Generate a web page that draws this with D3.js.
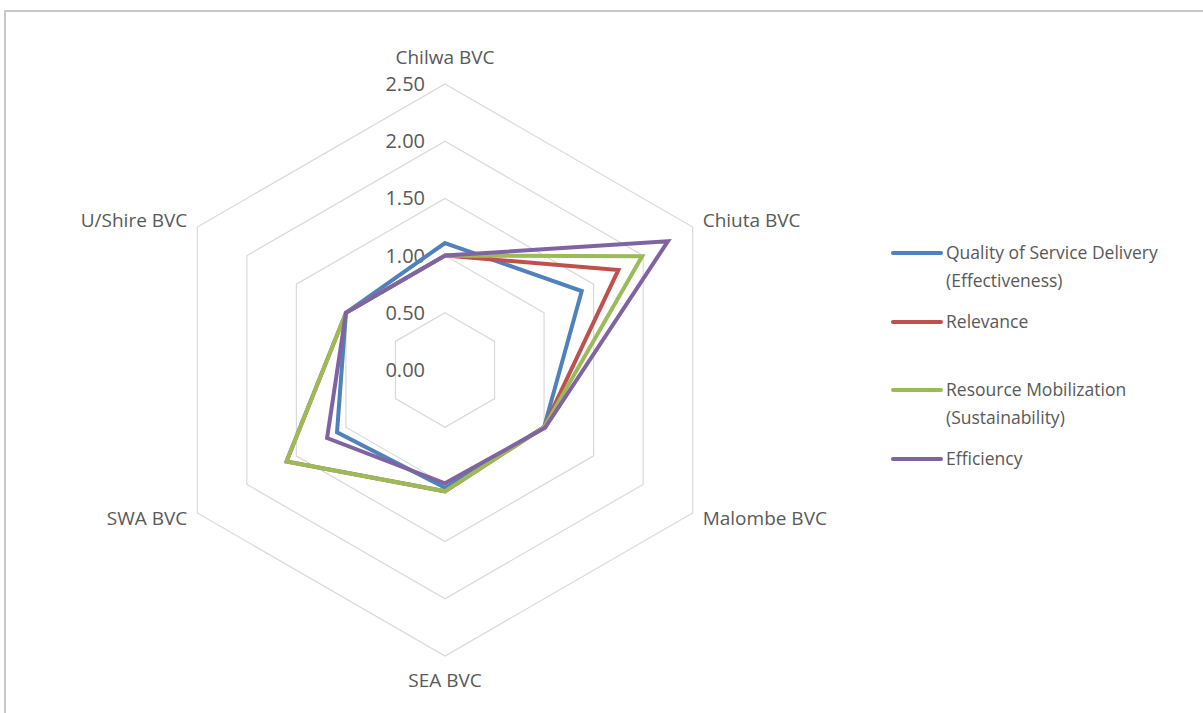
<!DOCTYPE html>
<html>
<head>
<meta charset="utf-8">
<script src="https://cdn.jsdelivr.net/npm/d3@7"></script>
<style>
  body { margin: 0; background: #fff; }
  svg text { font-family: "Open Sans", "DejaVu Sans", sans-serif; fill: #595959; }
</style>
</head>
<body>
<div id="plot"></div>
<script>
// Categories (axes of the radar) and tick values
const categories = ["Chilwa BVC", "Chiuta BVC", "Malombe BVC", "SEA BVC", "SWA BVC", "U/Shire BVC"];
const ticks = [0, 0.5, 1.0, 1.5, 2.0, 2.5];

// Series, values
const seriesNames = ["Quality of Service Delivery (Effectiveness)", "Relevance", "Resource Mobilization (Sustainability)", "Efficiency"];
const effectiveness = [1.11, 1.38, 1.0, 1.03, 1.09, 1.0];
const relevance     = [1.0, 1.75, 1.0, 1.06, 1.6, 1.0];
const sustainability = [1.0, 1.99, 1.0, 1.06, 1.6, 1.0];
const efficiency    = [1.0, 2.25, 1.01, 0.99, 1.19, 1.0];
const colors = ["#4f81bd", "#c0504d", "#9bbb59", "#8064a2"];

const width = 1203, height = 713;
const cx = 445, cy = 370;

const svg = d3.select("#plot").append("svg")
  .attr("width", width)
  .attr("height", height);

// frame
svg.append("path")
  .attr("d", `M5,${height} L5,11 L${width},11`)
  .attr("fill", "none")
  .attr("stroke", "#c9c9c9")
  .attr("stroke-width", 2);

const r = d3.scaleLinear([0, 2.5], [0, 286]);
const angle = i => i * Math.PI * 2 / categories.length;

const radial = d3.lineRadial()
  .angle((d, i) => angle(i))
  .radius(d => r(d))
  .curve(d3.curveLinearClosed);

const g = svg.append("g").attr("transform", `translate(${cx},${cy})`);

// grid rings (no spokes in the original)
g.selectAll(".ring")
  .data(ticks.slice(1))
  .join("path")
  .attr("class", "ring")
  .attr("d", t => radial(categories.map(() => t)))
  .attr("fill", "none")
  .attr("stroke", "#d9d9d9")
  .attr("stroke-width", 1.2);

// tick labels
g.selectAll(".tick")
  .data(ticks)
  .join("text")
  .attr("x", -20)
  .attr("y", t => -r(t))
  .attr("dy", "0.35em")
  .attr("text-anchor", "end")
  .style("font-size", "20px")
  .text(t => t.toFixed(2));

// category labels
const labelPos = [
  {dx: 0, dy: -27, anchor: "middle"},
  {dx: 10, dy: -7, anchor: "start"},
  {dx: 10, dy: 5, anchor: "start"},
  {dx: 0, dy: 24, anchor: "middle"},
  {dx: -10, dy: 5, anchor: "end"},
  {dx: -10, dy: -7, anchor: "end"}
];
g.selectAll(".cat")
  .data(categories)
  .join("text")
  .attr("x", (d, i) => r(2.5) * Math.sin(angle(i)) + labelPos[i].dx)
  .attr("y", (d, i) => -r(2.5) * Math.cos(angle(i)) + labelPos[i].dy)
  .attr("dy", "0.35em")
  .attr("text-anchor", (d, i) => labelPos[i].anchor)
  .style("font-size", "19px")
  .text(d => d);

// series
const allSeries = [effectiveness, relevance, sustainability, efficiency];
g.selectAll(".series")
  .data(allSeries)
  .join("path")
  .attr("d", d => radial(d))
  .attr("fill", "none")
  .attr("stroke", (d, i) => colors[i])
  .attr("stroke-width", 4)
  .attr("stroke-linejoin", "miter");

// legend
const legendItems = [
  {lines: ["Quality of Service Delivery", "(Effectiveness)"], y: 253},
  {lines: ["Relevance"], y: 322},
  {lines: ["Resource Mobilization", "(Sustainability)"], y: 390},
  {lines: ["Efficiency"], y: 459}
];
const legend = svg.append("g");
legendItems.forEach((item, i) => {
  legend.append("line")
    .attr("x1", 893).attr("x2", 941)
    .attr("y1", item.y).attr("y2", item.y)
    .attr("stroke", colors[i])
    .attr("stroke-width", 4)
    .attr("stroke-linecap", "round");
  const t = legend.append("text")
    .attr("x", 946)
    .attr("y", item.y)
    .style("font-size", "17.5px");
  item.lines.forEach((ln, j) => {
    t.append("tspan").attr("x", 946).attr("dy", j === 0 ? "0.35em" : "28px").text(ln);
  });
});
</script>
</body>
</html>
